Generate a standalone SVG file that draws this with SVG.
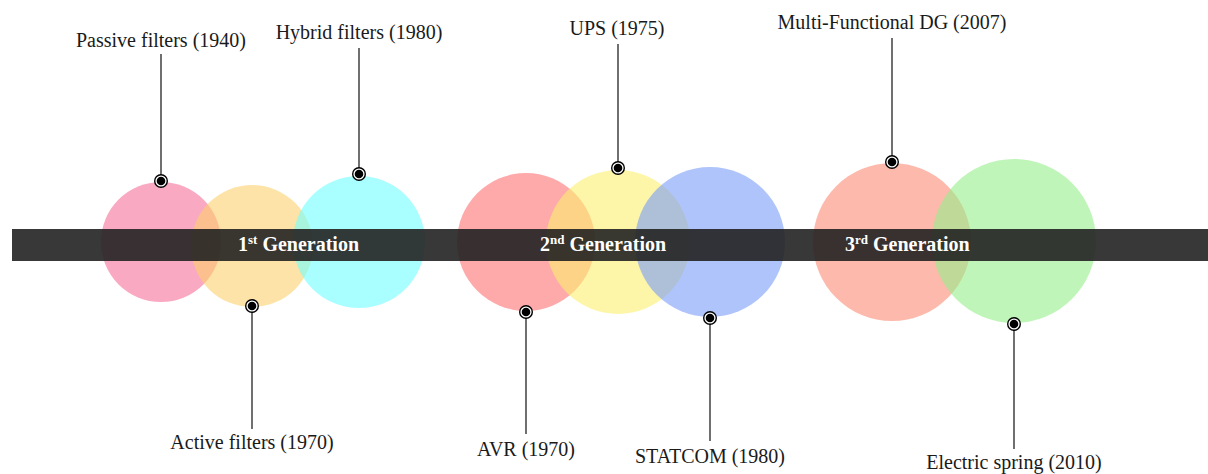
<svg xmlns="http://www.w3.org/2000/svg" width="1208" height="474" viewBox="0 0 1208 474">
<style>
.c{fill-opacity:0.6}
.lbl{font-family:"Liberation Serif","Times New Roman",serif;font-size:20px;fill:#1a1a1a;text-anchor:middle}
.gen{font-family:"Liberation Serif","Times New Roman",serif;font-size:20px;font-weight:bold;fill:#ffffff}
.sup{font-size:13px}
.ln{stroke:#222;stroke-width:1.3;fill:none}
</style>
<defs>
<g id="dot"><circle r="7" fill="#000"/><circle r="5.6" fill="#fff"/><circle r="4.3" fill="#000"/></g>
</defs>
<rect width="1208" height="474" fill="#fff"/>
<g id="circles">
<circle class="c" cx="161" cy="242" r="60" fill="#F57098"/>
<circle class="c" cx="252" cy="246" r="61" fill="#FCD06C"/>
<circle class="c" cx="359" cy="242" r="66" fill="#70FFFF"/>
<circle class="c" cx="526" cy="242" r="69" fill="#FF7171"/>
<circle class="c" cx="618" cy="242" r="72" fill="#FCF070"/>
<circle class="c" cx="710" cy="242" r="75" fill="#7A9DF9"/>
<circle class="c" cx="892" cy="242" r="79" fill="#FC8B75"/>
<circle class="c" cx="1014" cy="241" r="82" fill="#96EE8B"/>
</g>
<rect id="band" x="12" y="229" width="1196" height="32" fill="#222" fill-opacity="0.9"/>
<g id="generations">
<text class="gen" x="238" y="251">1<tspan class="sup" dy="-7">st</tspan><tspan dy="7"> Generation</tspan></text>
<text class="gen" x="540" y="251">2<tspan class="sup" dy="-7">nd</tspan><tspan dy="7"> Generation</tspan></text>
<text class="gen" x="845" y="251">3<tspan class="sup" dy="-7">rd</tspan><tspan dy="7"> Generation</tspan></text>
</g>
<g id="connectors">
<line class="ln" x1="161" y1="54" x2="161" y2="181"/>
<line class="ln" x1="359" y1="48" x2="359" y2="174"/>
<line class="ln" x1="618" y1="44" x2="618" y2="168"/>
<line class="ln" x1="892" y1="38" x2="892" y2="162"/>
<line class="ln" x1="252" y1="306" x2="252" y2="429"/>
<line class="ln" x1="526" y1="312" x2="526" y2="434"/>
<line class="ln" x1="710" y1="318" x2="710" y2="441"/>
<line class="ln" x1="1014" y1="324" x2="1014" y2="449"/>
</g>
<g id="n-passive"><use href="#dot" x="161" y="181"/><text class="lbl" x="161" y="47">Passive filters (1940)</text></g>
<g id="n-hybrid"><use href="#dot" x="359" y="174"/><text class="lbl" x="359" y="39">Hybrid filters (1980)</text></g>
<g id="n-ups"><use href="#dot" x="618" y="168"/><text class="lbl" x="617" y="35">UPS (1975)</text></g>
<g id="n-mfdg"><use href="#dot" x="892" y="162"/><text class="lbl" x="892" y="29">Multi-Functional DG (2007)</text></g>
<g id="n-active"><use href="#dot" x="252" y="306"/><text class="lbl" x="252" y="449">Active filters (1970)</text></g>
<g id="n-avr"><use href="#dot" x="526" y="312"/><text class="lbl" x="526" y="456">AVR (1970)</text></g>
<g id="n-statcom"><use href="#dot" x="710" y="318"/><text class="lbl" x="710" y="463">STATCOM (1980)</text></g>
<g id="n-spring"><use href="#dot" x="1014" y="324"/><text class="lbl" x="1014" y="469">Electric spring (2010)</text></g>
</svg>
